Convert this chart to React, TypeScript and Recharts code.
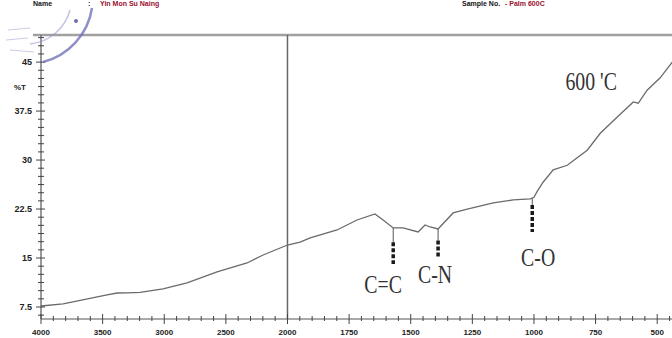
import React from 'react';
import { LineChart, Line, XAxis, YAxis, ReferenceLine, ReferenceDot } from 'recharts';

// FTIR spectrum
const wavenumbers = [4000, 3821, 3464, 3383, 3300, 3196, 3010, 2815, 2571, 2328, 2198, 2000, 1949, 1908, 1799, 1718, 1645, 1612, 1571, 1531, 1470, 1442, 1421, 1389, 1328, 1271, 1165, 1084, 1015, 1000, 987, 963, 922, 865, 784, 731, 662, 597, 577, 541, 488, 439];
const transmittance = [7.65, 7.96, 9.34, 9.64, 9.66, 9.75, 10.26, 11.18, 12.86, 14.24, 15.46, 16.99, 17.45, 18.07, 19.29, 20.82, 21.74, 20.82, 19.6, 19.6, 18.99, 20.06, 19.75, 19.45, 21.9, 22.5, 23.43, 23.89, 24.05, 24.3, 25.2, 26.6, 28.5, 29.2, 31.5, 34.1, 36.6, 38.9, 38.7, 40.7, 42.6, 45.0];

const xTickLabels = [4000, 3500, 3000, 2500, 2000, 1750, 1500, 1250, 1000, 750, 500];
const yTickLabels = [7.5, 15, 22.5, 30, 37.5, 45];

const peakLabels = ['C=C', 'C-N', 'C-O'];
const peakWavenumbers = [1571, 1389, 1007];
const peakCurveT = [19.6, 19.45, 24.15];
const peakTop = [17.4, 17.7, 23.1];
const peakBottom = [14.1, 15.0, 19.0];
const peakTextWn = [1612, 1401, 983];
const peakTextT = [10.9, 12.4, 15.0];

const tempLabel = "600 'C";
const tempWn = 768;
const tempT = 41.96;

const headerName = 'Yin Mon Su Naing';
const headerSample = '- Palm 600C';

// FTIR instruments double the scale below 2000 cm-1
const toPos = (wn: number) => (wn >= 2000 ? 4000 - wn : 2000 + (2000 - wn) * 2);

const X_MAX = 5120;
const Y_MIN = 5.66;
const Y_MAX = 49.15;

const data = wavenumbers.map((wn, i) => ({ pos: toPos(wn), t: transmittance[i] }));

const majorXPos = xTickLabels.map(toPos);
const xTicks: number[] = [];
for (let p = 0; p <= 5100; p += 100) xTicks.push(p);
const yTicks: number[] = [];
for (let v = 6.25; v <= 48.75; v += 1.25) yTicks.push(v);

const XTick = (props: any) => {
  const { x, y, payload } = props;
  const idx = majorXPos.indexOf(payload.value);
  const major = idx >= 0;
  return (
    <g>
      <line x1={x} x2={x} y1={y - (major ? 5 : 3)} y2={y + (major ? 5 : 2)} stroke="#444" strokeWidth={1} />
      {major && (
        <text x={x} y={y + 16} textAnchor="middle" fontSize={8} fontWeight="bold" fontFamily="Arial, Liberation Sans" fill="#222">
          {xTickLabels[idx]}
        </text>
      )}
    </g>
  );
};

const YTick = (props: any) => {
  const { x, y, payload } = props;
  const idx = yTickLabels.indexOf(payload.value);
  const major = idx >= 0;
  return (
    <g>
      <line x1={x - (major ? 5 : 3)} x2={x + (major ? 4 : 3)} y1={y} y2={y} stroke="#444" strokeWidth={1} />
      {major && (
        <text x={x - 9} y={y} textAnchor="end" dominantBaseline="central" fontSize={9} fontWeight="bold" fontFamily="Arial, Liberation Sans" fill="#222">
          {yTickLabels[idx]}
        </text>
      )}
    </g>
  );
};

const serifText = (label: string, size: number) => (p: any) => (
  <text
    transform={`translate(${p.cx},${p.cy}) scale(0.9,1.1)`}
    x={0}
    y={0}
    textAnchor="middle"
    dominantBaseline="central"
    fontSize={size}
    fontFamily="Liberation Serif, DejaVu Serif, serif"
    fill="#333"
  >
    {label}
  </text>
);

export default function App() {
  return (
    <div style={{ position: 'absolute', left: 0, top: 0, width: 672, height: 338, background: '#fff', overflow: 'hidden' }}>
      <LineChart width={672} height={338} data={data} margin={{ top: 35, right: 0, bottom: 0, left: 0 }}>
        <XAxis
          dataKey="pos"
          type="number"
          domain={[0, X_MAX]}
          ticks={xTicks}
          interval={0}
          tick={<XTick />}
          tickLine={false}
          tickSize={0}
          tickMargin={0}
          height={19}
          axisLine={{ stroke: '#555', strokeWidth: 1.2 }}
          allowDataOverflow
        />
        <YAxis
          type="number"
          domain={[Y_MIN, Y_MAX]}
          ticks={yTicks}
          interval={0}
          tick={<YTick />}
          tickLine={false}
          tickSize={0}
          tickMargin={0}
          width={41}
          axisLine={{ stroke: '#555', strokeWidth: 1.2 }}
          allowDataOverflow
        />
        <ReferenceLine
          segment={[{ x: -65, y: Y_MAX }, { x: X_MAX, y: Y_MAX }]}
          stroke="#a0a0a0"
          strokeWidth={2.5}
          ifOverflow="visible"
        />
        <ReferenceLine x={2000} stroke="#666" strokeWidth={1.5} />
        <Line dataKey="t" type="linear" stroke="#6a6a6a" strokeWidth={1.3} dot={false} isAnimationActive={false} />
        {peakLabels.map((lab, i) => (
          <ReferenceLine
            key={'c' + lab}
            segment={[
              { x: toPos(peakWavenumbers[i]), y: peakCurveT[i] },
              { x: toPos(peakWavenumbers[i]), y: peakTop[i] },
            ]}
            stroke="#555"
            strokeWidth={1}
          />
        ))}
        {peakLabels.map((lab, i) => (
          <ReferenceLine
            key={'m' + lab}
            segment={[
              { x: toPos(peakWavenumbers[i]), y: peakTop[i] },
              { x: toPos(peakWavenumbers[i]), y: peakBottom[i] },
            ]}
            stroke="#1a1a1a"
            strokeWidth={3.5}
            strokeDasharray="4 2"
          />
        ))}
        {peakLabels.map((lab, i) => (
          <ReferenceDot
            key={'t' + lab}
            x={toPos(peakTextWn[i])}
            y={peakTextT[i]}
            r={0}
            shape={serifText(lab, 22)}
          />
        ))}
        <ReferenceDot x={toPos(tempWn)} y={tempT} r={0} shape={serifText(tempLabel, 22)} />
      </LineChart>

      <svg width={672} height={338} style={{ position: 'absolute', left: 0, top: 0, pointerEvents: 'none' }}>
        <path d="M92,8 A66,66 0 0 1 43,62" fill="none" stroke="#6b6bb5" strokeWidth={2.5} opacity={0.75} />
        <path d="M70,10 A46,46 0 0 1 30,44" fill="none" stroke="#8a8ac8" strokeWidth={1.5} opacity={0.5} />
        <circle cx={76} cy={21} r={2} fill="#4a4aa0" opacity={0.8} />
        <path d="M8,30 L30,28 M6,40 L28,38 M10,50 L34,52" stroke="#9a9ad0" strokeWidth={1.2} opacity={0.5} />
      </svg>

      <div style={{ position: 'absolute', left: 33, top: 0, fontFamily: 'Arial, Liberation Sans', fontWeight: 'bold', fontSize: 7, color: '#111' }}>Name</div>
      <div style={{ position: 'absolute', left: 88, top: 0, fontFamily: 'Arial, Liberation Sans', fontWeight: 'bold', fontSize: 7, color: '#111' }}>:</div>
      <div style={{ position: 'absolute', left: 100, top: 0, fontFamily: 'Arial, Liberation Sans', fontWeight: 'bold', fontSize: 7, color: '#9a1030' }}>{headerName}</div>
      <div style={{ position: 'absolute', left: 462, top: 0, fontFamily: 'Arial, Liberation Sans', fontWeight: 'bold', fontSize: 7, color: '#111' }}>Sample No.</div>
      <div style={{ position: 'absolute', left: 505, top: 0, fontFamily: 'Arial, Liberation Sans', fontWeight: 'bold', fontSize: 7, color: '#9a1030' }}>{headerSample}</div>
      <div style={{ position: 'absolute', left: 14, top: 83, fontFamily: 'Arial, Liberation Sans', fontWeight: 'bold', fontSize: 8, color: '#222' }}>%T</div>
    </div>
  );
}
